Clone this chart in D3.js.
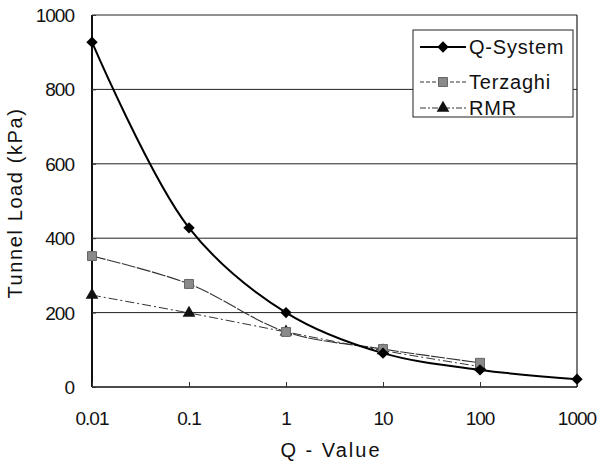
<!DOCTYPE html>
<html>
<head>
<meta charset="utf-8">
<script src="https://cdn.jsdelivr.net/npm/d3@7"></script>
<style>
  body { margin: 0; background: #fff; }
  svg text { font-family: "Liberation Sans", Arial, sans-serif; fill: #111; }
</style>
</head>
<body>
<svg width="601" height="461"></svg>
<script>
var qValues = [0.01, 0.1, 1, 10, 100, 1000];
var qSystem = [927, 428, 200, 91, 46, 21];
var terzaghi = [352, 277, 148, 102, 65];
var rmr = [247, 199, 148, 98, 55];
var yTicks = [0, 200, 400, 600, 800, 1000];
var seriesNames = ["Q-System", "Terzaghi", "RMR"];

var svg = d3.select("svg"),
    plotLeft = 92, plotRight = 577, plotTop = 15, plotBottom = 387;

var x = d3.scaleLog().domain([0.01, 1000]).range([plotLeft, plotRight]);
var y = d3.scaleLinear().domain([0, 1000]).range([plotBottom, plotTop]);

// grid lines
svg.append("g")
  .selectAll("line")
  .data(yTicks.filter(function(d) { return d > 0; }))
  .enter().append("line")
    .attr("x1", plotLeft).attr("x2", plotRight)
    .attr("y1", function(d) { return y(d); })
    .attr("y2", function(d) { return y(d); })
    .attr("stroke", "#222").attr("stroke-width", 1);

// plot border
svg.append("line").attr("x1", plotRight).attr("x2", plotRight).attr("y1", plotTop).attr("y2", plotBottom)
  .attr("stroke", "#222").attr("stroke-width", 1.2);
svg.append("line").attr("x1", plotLeft).attr("x2", plotRight).attr("y1", plotBottom).attr("y2", plotBottom)
  .attr("stroke", "#111").attr("stroke-width", 1.5);
svg.append("line").attr("x1", plotLeft).attr("x2", plotLeft).attr("y1", plotTop).attr("y2", plotBottom)
  .attr("stroke", "#111").attr("stroke-width", 2);

// axes (inner tick marks only)
var yAxis = svg.append("g")
    .attr("transform", "translate(" + plotLeft + ",0)")
    .call(d3.axisRight(y).tickValues(yTicks).tickSize(4).tickFormat(""));
yAxis.select(".domain").remove();
yAxis.selectAll("line").attr("stroke", "#333");

var xAxis = svg.append("g")
    .attr("transform", "translate(0," + plotBottom + ")")
    .call(d3.axisTop(x).tickValues(qValues).tickSize(5).tickFormat(""));
xAxis.select(".domain").remove();
xAxis.selectAll("line").attr("stroke", "#333");

svg.append("g").selectAll("text")
  .data(yTicks)
  .enter().append("text")
    .attr("x", 74)
    .attr("y", function(d) { return y(d) + 7; })
    .attr("text-anchor", "end")
    .attr("font-size", 19)
    .attr("letter-spacing", -1)
    .text(function(d) { return d; });

svg.append("g").selectAll("text")
  .data(qValues)
  .enter().append("text")
    .attr("x", function(d) { return x(d); })
    .attr("y", 425)
    .attr("text-anchor", "middle")
    .attr("font-size", 19)
    .attr("letter-spacing", -1)
    .text(function(d) { return d; });

svg.append("text")
  .attr("x", 331).attr("y", 457)
  .attr("text-anchor", "middle")
  .attr("font-size", 20)
  .attr("letter-spacing", 2)
  .text("Q - Value");

svg.append("text")
  .attr("transform", "translate(22,203) rotate(-90)")
  .attr("text-anchor", "middle")
  .attr("font-size", 20)
  .attr("letter-spacing", 1.6)
  .text("Tunnel Load (kPa)");

// series
var line = d3.line()
  .x(function(d) { return x(d[0]); })
  .y(function(d) { return y(d[1]); })
  .curve(d3.curveCatmullRom.alpha(0.5));

function pairs(vals) {
  return vals.map(function(v, i) { return [qValues[i], v]; });
}

// diamond = square turned 45 degrees (wider than d3.symbolDiamond)
var styles = [
  { data: pairs(qSystem), stroke: "#000", width: 2, dash: null, symbol: d3.symbolSquare, rot: 45, size: 64, fill: "#000" },
  { data: pairs(terzaghi), stroke: "#333", width: 1.1, dash: "14,1.5", symbol: d3.symbolSquare, rot: 0, size: 80, fill: "#8a8a8a" },
  { data: pairs(rmr), stroke: "#333", width: 1, dash: "9,3,2,3", symbol: d3.symbolTriangle, rot: 0, size: 70, fill: "#111" }
];

styles.slice().reverse().forEach(function(s) {
  svg.append("path")
    .datum(s.data)
    .attr("fill", "none")
    .attr("stroke", s.stroke)
    .attr("stroke-width", s.width)
    .attr("stroke-dasharray", s.dash)
    .attr("d", line);
});

styles.slice().reverse().forEach(function(s) {
  svg.append("g").selectAll("path")
    .data(s.data)
    .enter().append("path")
      .attr("transform", function(d) { return "translate(" + x(d[0]) + "," + y(d[1]) + ") rotate(" + s.rot + ")"; })
      .attr("d", d3.symbol().type(s.symbol).size(s.size))
      .attr("fill", s.fill)
      .attr("stroke", s.fill === "#8a8a8a" ? "#666" : "none")
      .attr("stroke-width", 1);
});

// legend
var legend = svg.append("g");
legend.append("rect")
  .attr("x", 413).attr("y", 30).attr("width", 160).attr("height", 87)
  .attr("fill", "#fff").attr("stroke", "#222").attr("stroke-width", 1);

var legendRows = [47, 82, 108];
styles.forEach(function(s, i) {
  var ly = legendRows[i];
  legend.append("line")
    .attr("x1", 420).attr("x2", 466).attr("y1", ly).attr("y2", ly)
    .attr("stroke", s.stroke).attr("stroke-width", s.width)
    .attr("stroke-dasharray", i === 0 ? null : (i === 1 ? "4,2" : "6,2,2,2"));
  legend.append("path")
    .attr("transform", "translate(443," + ly + ") rotate(" + s.rot + ")")
    .attr("d", d3.symbol().type(s.symbol).size(s.size))
    .attr("fill", s.fill)
    .attr("stroke", s.fill === "#8a8a8a" ? "#666" : "none");
  legend.append("text")
    .attr("x", 469).attr("y", ly + 7)
    .attr("font-size", 20)
    .attr("letter-spacing", 0.8)
    .text(seriesNames[i]);
});
</script>
</body>
</html>
